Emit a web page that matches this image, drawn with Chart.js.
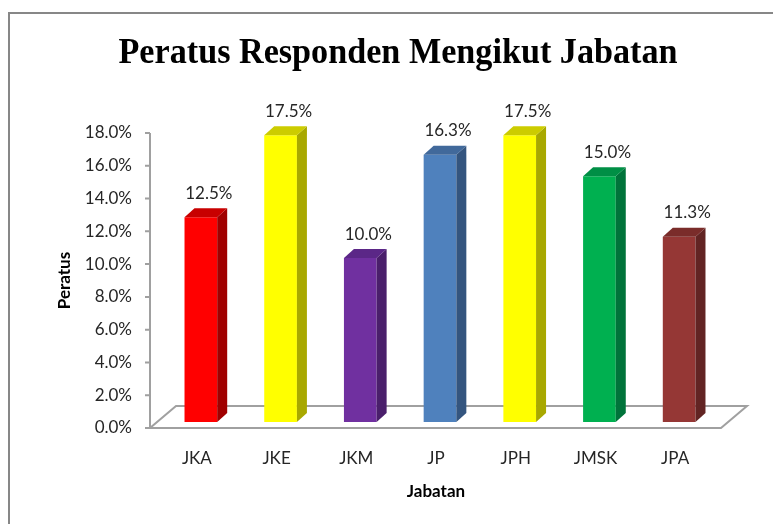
<!DOCTYPE html>
<html>
<head>
<meta charset="utf-8">
<script src="https://cdn.jsdelivr.net/npm/chart.js@4"></script>
<style>
    html, body { margin: 0; padding: 0; background: #fff; }
</style>
</head>
<body>
<canvas id="jabatanChart" width="773" height="524"></canvas>
<script>
const tajuk = 'Peratus Responden Mengikut Jabatan';
const jabatan = ['JKA', 'JKE', 'JKM', 'JP', 'JPH', 'JMSK', 'JPA'];
const peratus = [12.5, 17.5, 10.0, 16.3, 17.5, 15.0, 11.3];

// front / side / top face colours for each bar
const warnaDepan = ['#FF0000', '#FFFF00', '#7030A0', '#4F81BD', '#FFFF00', '#00B050', '#953735'];
const warnaSisi = ['#A00000', '#A8A800', '#4A1F6B', '#34557F', '#A8A800', '#00733A', '#622423'];
const warnaAtas = ['#C80000', '#CCCC00', '#5B2787', '#41699B', '#CCCC00', '#008F45', '#7A2C2A'];

(function() {
    const ctx = document.getElementById('jabatanChart');
    if (!ctx) return;

    const depth = { dx: 10, dy: -9 };     // bar depth
    const floorDepth = { dx: 26, dy: -22 };
    const shift = { x: 4, y: -6 };       // bars stand a bit inside the floor

    const bar3d = {
        id: 'bar3d',
        beforeDraw(chart) {
            const c = chart.ctx;
            c.save();
            c.fillStyle = '#fff';
            c.fillRect(0, 0, chart.width, chart.height);
            // outer frame (only left and top are visible)
            c.strokeStyle = '#878787';
            c.lineWidth = 2;
            c.beginPath();
            c.moveTo(9, chart.height);
            c.lineTo(9, 13);
            c.lineTo(chart.width, 13);
            c.stroke();
            // title
            c.font = 'bold 35px "Liberation Serif"';
            c.fillStyle = '#000';
            c.textAlign = 'center';
            c.textBaseline = 'alphabetic';
            const w = c.measureText(tajuk).width;
            c.translate(398, 63);
            c.scale(Math.min(1, 559 / w), 1);
            c.fillText(tajuk, 0, 0);
            c.restore();
        },
        beforeDatasetsDraw(chart) {
            const c = chart.ctx;
            const a = chart.chartArea;
            const y = chart.scales.y;
            const y0 = y.getPixelForValue(0);
            const ax = a.left - 7;
            c.save();
            c.strokeStyle = '#a0a0a0';
            c.lineWidth = 2;
            // floor
            c.beginPath();
            c.moveTo(ax, y0);
            c.lineTo(a.right + 6, y0);
            c.lineTo(a.right + 6 + floorDepth.dx, y0 + floorDepth.dy);
            c.lineTo(ax + floorDepth.dx, y0 + floorDepth.dy);
            c.closePath();
            c.stroke();
            // value axis with tick marks
            c.beginPath();
            c.moveTo(ax, a.top);
            c.lineTo(ax, y0);
            y.ticks.forEach(t => {
                const py = y.getPixelForValue(t.value);
                c.moveTo(ax - 5, py);
                c.lineTo(ax, py);
            });
            c.stroke();
            c.restore();
        },
        beforeDatasetDraw(chart) {
            chart.ctx.save();
            chart.ctx.translate(shift.x, shift.y);
        },
        afterDatasetDraw(chart, args) {
            const c = chart.ctx;
            args.meta.data.forEach((bar, i) => {
                const left = bar.x - bar.width / 2;
                const right = bar.x + bar.width / 2;
                const top = bar.y;
                const base = bar.base;
                // side face
                c.fillStyle = warnaSisi[i];
                c.beginPath();
                c.moveTo(right, top);
                c.lineTo(right + depth.dx, top + depth.dy);
                c.lineTo(right + depth.dx, base + depth.dy);
                c.lineTo(right, base);
                c.closePath();
                c.fill();
                // top face
                c.fillStyle = warnaAtas[i];
                c.beginPath();
                c.moveTo(left, top);
                c.lineTo(left + depth.dx, top + depth.dy);
                c.lineTo(right + depth.dx, top + depth.dy);
                c.lineTo(right, top);
                c.closePath();
                c.fill();
                // value label
                c.fillStyle = '#262626';
                c.font = '17px Lato';
                c.textAlign = 'center';
                c.textBaseline = 'middle';
                c.fillText(peratus[i].toFixed(1) + '%', bar.x + 8, top - 24);
            });
            c.restore();
        }
    };

    const jabatanChart = new Chart(ctx, {
        type: 'bar',
        data: {
            labels: jabatan,
            datasets: [{
                label: 'Peratus',
                data: peratus,
                backgroundColor: warnaDepan,
                borderWidth: 0,
                categoryPercentage: 1,
                barPercentage: 0.41
            }]
        },
        options: {
            responsive: false,
            animation: false,
            devicePixelRatio: 1,
            layout: {
                padding: { top: 133, left: 0, right: 58, bottom: 0 }
            },
            scales: {
                x: {
                    grid: { display: false, drawTicks: false },
                    border: { display: false },
                    ticks: {
                        padding: 20,
                        color: '#262626',
                        font: { family: 'Lato', size: 17 }
                    },
                    title: {
                        display: true,
                        text: 'Jabatan',
                        color: '#000',
                        font: { family: 'Lato', size: 17, weight: 'bold' },
                        padding: { top: 0, bottom: 22 }
                    },
                    afterFit(scale) { scale.height = 96; }
                },
                y: {
                    min: 0,
                    max: 18,
                    grid: { display: false, drawTicks: false },
                    border: { display: false },
                    ticks: {
                        stepSize: 2,
                        padding: 25,
                        color: '#262626',
                        font: { family: 'Lato', size: 17 },
                        callback: v => v.toFixed(1) + '%'
                    },
                    title: {
                        display: true,
                        text: 'Peratus',
                        color: '#000',
                        font: { family: 'Lato', size: 17, weight: 'bold' },
                        padding: { top: 54, bottom: 0 }
                    },
                    afterFit(scale) { scale.width = 157; }
                }
            },
            plugins: {
                legend: { display: false },
                tooltip: { enabled: false }
            }
        },
        plugins: [bar3d]
    });
})();
</script>
</body>
</html>
